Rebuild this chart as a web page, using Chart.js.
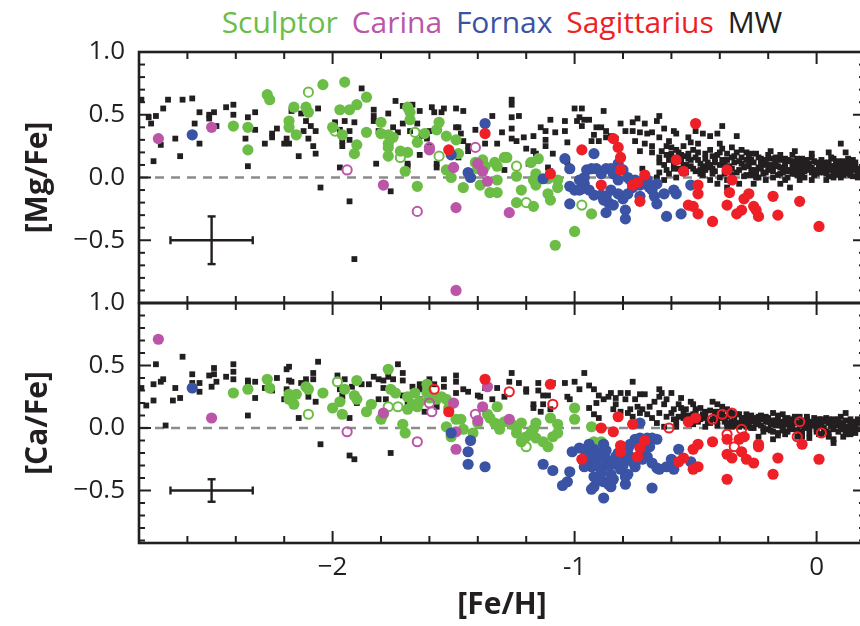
<!DOCTYPE html>
<html>
<head>
<meta charset="utf-8">
<script src="https://cdn.jsdelivr.net/npm/chart.js@4.4.1/dist/chart.umd.min.js"></script>
<style>
  html, body { margin: 0; padding: 0; background: #fff; overflow: hidden; }
  #wrap { position: relative; width: 860px; height: 626px; overflow: hidden; background: #fff; }
  #wrap canvas { position: absolute; left: 0; }
  #cMg { top: 0; }
  #cCa { top: 280px; }
  #legend { position: absolute; top: 2px; left: 139px; width: 726px; text-align: center;
            font-family: 'Open Sans', sans-serif; font-size: 30px; line-height: 40px; white-space: nowrap; }
  #legend span { margin: 0 3px; }
</style>
</head>
<body>
<div id="wrap">
  <div id="legend">
    <span style="color:#6cbd45">Sculptor</span>
    <span style="color:#bb55a8">Carina</span>
    <span style="color:#3b53a4">Fornax</span>
    <span style="color:#ee1f26">Sagittarius</span>
    <span style="color:#231f20">MW</span>
  </div>
  <canvas id="cMg" width="880" height="310" style="width:880px;height:310px"></canvas>
  <canvas id="cCa" width="880" height="346" style="width:880px;height:346px"></canvas>
</div>
<script>
// ---------- [Mg/Fe] vs [Fe/H] ----------
const mgMW = [
  [-2.79,0.62],[-2.76,0.48],[-2.73,0.49],[-2.75,0.43],[-2.68,0.62],[-2.70,0.55],[-2.62,0.62],[-2.58,0.63],
  [-2.55,0.52],[-2.57,0.43],[-2.55,0.27],[-2.63,0.17],[-2.74,0.13],[-2.71,0.26],[-2.65,0.31],[-2.51,0.50],
  [-2.49,0.52],[-2.51,0.47],[-2.48,0.41],[-2.44,0.56],[-2.41,0.58],[-2.41,0.50],[-2.35,0.48],[-2.32,0.52],
  [-2.32,0.38],[-2.36,0.31],[-2.35,0.09],[-2.28,0.27],[-2.23,0.39],[-2.25,0.35],[-2.25,0.32],[-2.20,0.27],
  [-2.18,0.27],[-2.19,0.31],[-2.17,0.53],[-2.13,0.51],[-2.11,0.45],[-2.12,0.37],[-2.09,0.41],[-2.07,0.37],
  [-2.10,0.31],[-2.08,0.25],[-2.07,0.19],[-2.14,0.17],[-2.06,0.55],[-1.99,0.44],[-1.97,0.38],[-1.95,0.45],
  [-1.91,0.44],[-1.93,0.37],[-1.93,0.30],[-1.96,0.29],[-1.96,0.25],[-1.97,0.08],[-2.05,-0.08],[-1.93,-0.19],
  [-1.91,-0.65],
  [-1.88,0.71],[-1.74,0.61],[-1.71,0.57],[-1.67,0.58],[-1.64,0.53],[-1.59,0.56],[-1.58,0.52],[-1.54,0.55],
  [-1.55,0.52],[-1.49,0.55],[-1.46,0.53],[-1.34,0.49],[-1.26,0.62],[-1.26,0.58],[-1.26,0.48],[-1.23,0.49],
  [-1.83,0.54],[-1.83,0.49],[-1.77,0.51],[-1.83,0.45],[-1.81,0.37],[-1.75,0.40],[-1.71,0.43],[-1.73,0.36],
  [-1.65,0.43],[-1.68,0.37],[-1.60,0.37],[-1.63,0.33],[-1.61,0.31],[-1.60,0.25],[-1.64,0.18],[-1.69,0.11],
  [-1.69,0.09],[-1.82,0.11],[-1.76,-0.11],[-1.49,0.40],[-1.48,0.40],[-1.47,0.35],[-1.46,0.29],[-1.44,0.25],
  [-1.41,0.38],[-1.37,0.27],[-1.32,0.27],[-1.30,0.36],[-1.26,0.39],[-1.26,0.31],[-1.21,0.32],[-1.17,0.33],
  [-1.24,0.29],[-1.20,0.23],[-1.17,0.21],[-1.16,0.19],[-1.14,0.40],[-1.12,0.37],[-1.10,0.46],[-1.08,0.36],
  [-1.12,0.30],[-1.12,0.25],[-1.09,0.19],[-1.04,0.45],[-1.04,0.37],[-1.03,0.28],[-0.99,0.45],[-1.00,0.55],
  [-1.57,0.11],[-1.57,0.08],[-1.49,0.19],[-1.48,0.16],[-1.44,0.21],[-1.29,0.06],[-1.19,0.11],[-1.11,0.08],
  [-1.10,0.05],[-1.03,0.12],
  [-0.97,0.55],[-0.88,0.53],[-0.98,0.48],[-0.96,0.46],[-0.97,0.41],[-0.94,0.46],[-0.91,0.40],[-0.89,0.40],
  [-0.87,0.37],[-0.92,0.34],[-0.93,0.29],[-0.90,0.29],[-0.87,0.32],[-0.85,0.33],[-0.83,0.31],[-0.81,0.43],
  [-0.79,0.37],[-0.76,0.44],[-0.74,0.47],[-0.71,0.43],[-0.76,0.37],[-0.73,0.36],[-0.70,0.35],[-0.68,0.36],
  [-0.66,0.45],[-0.65,0.49],[-0.63,0.39],[-0.65,0.32],[-0.61,0.29],[-0.59,0.37],[-0.58,0.35],[-0.55,0.25],
  [-0.53,0.32],[-0.52,0.28],[-0.50,0.37],[-0.49,0.27],[-0.47,0.35],[-0.44,0.33],[-0.41,0.35],[-0.39,0.41],
  [-0.33,0.33],[-0.40,0.27],[-0.75,0.29],[-0.73,0.21],[-0.71,0.27],[-0.68,0.25],[-0.68,0.20],[-0.65,0.16],
  [-0.65,0.12],[-0.63,0.10],[-0.62,0.06],[-0.61,0.14],[-0.59,0.11],[-0.57,0.20],[-0.56,0.18],[-0.53,0.19],
  [-0.52,0.14],[-0.50,0.16],[-0.48,0.11],[-0.46,0.15],[-0.44,0.10],[-0.42,0.12],[-0.41,0.18],[-0.39,0.23],
  [-0.37,0.19],[-0.35,0.24],[-0.33,0.20],[-0.31,0.16],[-0.29,0.20],[-0.27,0.14],[-0.25,0.19],[-0.23,0.15],
  [-0.21,0.10],[-0.19,0.21],[-0.17,0.16],[-0.15,0.14],[-0.13,0.11],[-0.10,0.18],[-0.08,0.11],[-0.06,0.15],
  [-0.04,0.10],[-0.02,0.16],[0.00,0.12],[0.03,0.08],[0.05,0.20],[0.07,0.15],[0.10,0.27],[0.12,0.20],
  [0.14,0.11],[0.16,0.06],[0.09,0.08],[0.11,0.06],[0.07,0.03],[0.04,0.03],[0.01,0.04],[-0.02,0.04],
  [-0.05,0.00],[-0.07,0.06],[-0.10,0.03],[-0.13,-0.02],[-0.15,0.03],[-0.18,0.00],[-0.21,0.04],[-0.24,0.00],
  [-0.26,0.06],[-0.29,0.02],[-0.32,0.06],[-0.35,0.02],[-0.37,-0.02],[-0.40,0.00],[-0.43,0.03],[-0.46,0.06],
  [-0.48,0.03],[-0.51,0.07],[-0.54,0.10],[-0.57,0.07],[-0.59,0.07],[-0.58,0.00],[-0.61,0.03],[-0.65,0.04],
  [-0.66,0.00],[-0.63,-0.02],[-0.44,-0.02],[-0.41,-0.05],[-0.37,-0.08],[-0.32,-0.05],[-0.26,-0.05],[-0.21,-0.02],
  [-0.15,-0.05],[-0.11,-0.08],[-0.07,-0.02],[-0.02,-0.02],[0.04,-0.02],[0.10,0.00],[0.13,0.03],[0.15,0.14],
  [0.13,0.15],[-0.72,0.07],
  [-0.60,0.15],[-0.55,0.10],[-0.50,0.05],[-0.45,0.08],[-0.42,0.05],[-0.38,0.10],[-0.36,0.05],[-0.34,0.12],
  [-0.30,0.08],[-0.28,0.10],[-0.27,0.02],[-0.24,0.08],[-0.22,0.12],[-0.20,0.06],[-0.18,0.09],[-0.16,0.02],
  [-0.14,0.07],[-0.12,0.05],[-0.11,0.13],[-0.09,0.07],[-0.08,0.02],[-0.06,0.09],[-0.05,0.05],[-0.03,0.07],
  [-0.01,0.02],[0.01,0.08],[0.02,0.05],[0.04,0.10],[0.06,0.06],[0.08,0.11],[0.09,0.02],[0.12,0.09],
  [0.14,0.06],[0.16,0.10],[0.17,0.03],[-0.64,0.21],[-0.62,0.18],[-0.60,0.24],[-0.57,0.14],[-0.53,0.15],
  [-0.49,0.20],[-0.47,0.09],[-0.43,0.17],[-0.39,0.14],[-0.35,0.16],[-0.31,0.11],[-0.29,0.14],[-0.25,0.04],
  [-0.23,0.11],[-0.19,0.15],[-0.17,0.11],[-0.15,0.08],[-0.13,0.15],[-0.10,0.10],[-0.07,0.13],[-0.04,0.14],
  [0.00,0.06],[0.03,0.12],[0.05,0.01],[0.07,0.09],[0.10,0.06],[0.11,0.13],[0.13,0.09],[0.15,0.01],[0.16,0.07],
  [-0.62,0.25],[-0.60,0.19],[-0.58,0.22],[-0.56,0.13],[-0.55,0.17],[-0.54,0.04],[-0.52,0.09],[-0.51,0.22],
  [-0.49,0.14],[-0.48,0.06],[-0.46,0.19],[-0.45,0.12],[-0.44,0.22],[-0.43,0.07],[-0.42,0.15],[-0.40,0.10],
  [-0.40,0.20],[-0.38,0.03],[-0.37,0.14],[-0.36,0.09],[-0.34,0.17],[-0.33,0.04],[-0.32,0.13],[-0.31,0.22],
  [-0.30,0.01],[-0.29,0.09],[-0.28,0.17],[-0.27,0.06],[-0.26,0.12],[-0.25,0.00],[-0.24,0.16],[-0.23,0.07],
  [-0.22,0.03],[-0.21,0.14],[-0.20,0.18],[-0.19,0.10],[-0.18,0.05],[-0.17,0.13],[-0.16,0.09],[-0.15,0.18],
  [-0.14,0.04],[-0.13,0.09],[-0.12,0.14],[-0.12,0.00],[-0.11,0.06],[-0.10,0.13],[-0.09,0.03],[-0.08,0.15],
  [-0.07,0.09],[-0.06,0.02],[-0.05,0.12],[-0.04,0.06],[-0.03,0.11],[-0.02,0.08],[-0.01,0.13],[0.00,0.03],
  [0.01,0.10],[0.02,0.14],[0.03,0.04],[0.04,0.07],[0.05,0.12],[0.06,0.09],[0.07,0.00],[0.08,0.06],
  [0.09,0.13],[0.10,0.09],[0.11,0.02],[0.12,0.05],[0.13,0.12],[0.14,0.02],[0.15,0.08],[0.16,0.12],
  [0.17,0.07],[0.17,0.00],[0.06,0.16],[-0.02,0.19],[-0.09,0.21],[-0.27,0.19],[-0.35,0.07],[-0.47,0.02]
];
const mgScl = [
  [-2.27,0.66],[-2.26,0.62],[-2.41,0.41],[-2.35,0.40],[-2.35,0.22],[-2.18,0.45],[-2.18,0.40],[-2.16,0.56],
  [-2.15,0.34],[-2.11,0.56],[-2.10,0.52],[-2.04,0.74],[-1.95,0.76],[-1.97,0.54],[-1.93,0.54],[-1.90,0.58],
  [-2.00,0.40],[-1.96,0.34],[-1.90,0.26],[-1.91,0.19],
  [-1.86,0.64],[-1.86,0.36],[-1.80,0.44],[-1.80,0.35],[-1.77,0.34],[-1.77,0.27],[-1.75,0.32],[-1.77,0.24],
  [-1.77,0.17],[-1.72,0.21],[-1.69,0.56],[-1.68,0.52],[-1.68,0.46],[-1.69,0.20],[-1.70,0.05],[-1.65,-0.07],
  [-1.62,0.35],[-1.65,0.28],[-1.57,0.38],[-1.56,0.44],[-1.53,0.33],[-1.49,0.30],[-1.48,0.19],[-1.46,-0.08],
  [-1.51,0.00],[-1.53,0.06],[-1.41,0.12],[-1.40,0.07],[-1.38,0.14],[-1.37,0.09],[-1.39,-0.06],[-1.35,-0.12],
  [-1.32,-0.12],[-1.33,0.12],[-1.32,0.09],[-1.29,0.16],[-1.28,0.16],[-1.32,-0.02],[-1.24,0.01],[-1.22,-0.10],
  [-1.24,-0.20],[-1.17,-0.23],[-1.17,-0.02],[-1.16,-0.06],[-1.16,0.03],[-1.15,0.15],[-1.18,0.12],[-1.11,-0.01],
  [-1.11,-0.13],[-1.10,-0.18],[-1.07,-0.02],[-1.07,-0.08],[-1.08,-0.54],[-1.00,-0.43],[-0.93,-0.29]
];
const mgSclOpen = [[-2.10,0.68],[-1.99,0.37],[-1.56,0.17],[-1.66,0.36],[-1.72,0.16],[-1.24,0.09],[-1.20,-0.20],[-0.97,-0.22]];
const mgCar = [[-2.72,0.31],[-2.50,0.40],[-1.79,-0.06],[-1.60,0.22],[-1.50,0.08],[-1.40,0.11],[-1.38,0.05],[-1.36,-0.03],[-1.49,-0.24],[-1.27,-0.28],[-1.49,-0.90]];
const mgCarOpen = [[-1.94,0.06],[-1.65,-0.27],[-1.60,0.24],[-1.41,0.24]];
const mgFnx = [
  [-2.58,0.34],[-1.37,0.43],[-1.51,0.18],[-1.44,0.04],[-1.43,0.00],[-1.13,-0.01],[-1.04,0.15],[-1.02,0.07],
  [-1.02,-0.21],[-1.00,-0.10],[-1.02,-0.07],[-0.92,0.19],[-0.98,-0.02],[-0.96,0.00],[-0.95,0.06],[-0.93,0.07],
  [-0.91,0.07],[-0.89,0.03],[-0.87,0.07],[-0.85,0.07],[-0.84,0.03],[-0.82,-0.02],[-0.82,0.11],[-0.80,0.06],
  [-0.78,0.00],[-0.77,-0.02],[-0.76,-0.08],[-0.75,-0.02],[-0.73,-0.06],[-0.71,-0.05],[-0.70,-0.02],[-0.69,-0.08],
  [-0.68,-0.10],[-0.66,-0.05],[-0.67,-0.15],[-0.66,-0.21],[-0.73,-0.15],[-0.78,-0.13],[-0.80,-0.17],[-0.82,-0.13],
  [-0.85,-0.10],[-0.87,-0.15],[-0.88,-0.18],[-0.89,-0.14],[-0.92,-0.14],[-0.94,-0.10],[-0.96,-0.05],[-0.97,-0.09],
  [-0.98,-0.10],[-0.87,-0.28],[-0.79,-0.26],[-0.79,-0.33],[-0.86,-0.20],[-0.84,-0.22],[-0.62,-0.31],[-0.56,-0.29],
  [-0.52,-0.06],[-0.59,-0.10],[-0.58,-0.13],[-0.63,-0.13]
];
const mgSgr = [
  [-1.37,0.35],[-1.52,0.22],[-1.10,0.03],[-0.97,0.22],[-0.89,-0.06],[-0.84,0.31],[-0.82,0.24],[-0.81,0.16],
  [-0.81,0.06],[-0.76,-0.06],[-0.74,-0.04],[-0.71,0.02],[-0.73,-0.19],[-0.58,0.14],[-0.55,0.05],[-0.50,0.43],
  [-0.37,0.06],[-0.35,-0.02],[-0.49,-0.06],[-0.49,-0.13],[-0.53,-0.22],[-0.51,-0.23],[-0.49,-0.29],[-0.36,-0.12],
  [-0.37,-0.22],[-0.43,-0.35],[-0.31,-0.26],[-0.33,-0.29],[-0.30,-0.17],[-0.28,-0.13],[-0.26,-0.23],[-0.25,-0.26],
  [-0.24,-0.31],[-0.18,-0.15],[-0.16,-0.30],[-0.07,-0.19],[0.01,-0.39]
];
// typical uncertainty: [Fe/H] centre, ratio centre, half-widths
const mgErrBar = [-2.5, -0.5, 0.17, 0.19];

// ---------- [Ca/Fe] vs [Fe/H] ----------
const caMW = [
  [-2.79,0.32],[-2.77,0.18],[-2.74,0.22],[-2.73,0.51],[-2.74,0.35],[-2.71,0.37],[-2.70,0.39],[-2.69,0.02],
  [-2.66,0.22],[-2.65,0.32],[-2.63,0.24],[-2.62,0.57],[-2.58,0.43],[-2.58,0.36],[-2.55,0.36],[-2.55,0.29],
  [-2.51,0.42],[-2.49,0.48],[-2.49,0.43],[-2.50,0.33],[-2.48,0.37],[-2.44,0.41],[-2.41,0.51],[-2.41,0.45],
  [-2.41,0.39],[-2.35,0.38],[-2.35,0.36],[-2.32,0.37],[-2.32,0.24],[-2.35,0.10],[-2.25,0.30],[-2.23,0.40],
  [-2.28,0.32],[-2.20,0.23],[-2.19,0.47],[-2.18,0.49],[-2.18,0.38],[-2.19,0.31],[-2.17,0.37],[-2.14,0.08],
  [-2.13,0.36],[-2.11,0.39],[-2.10,0.25],[-2.08,0.44],[-2.08,0.39],[-2.07,0.21],[-2.06,0.53],[-1.98,0.42],
  [-1.97,0.31],[-1.96,0.26],[-1.96,0.23],[-1.95,0.39],[-1.93,0.08],[-1.93,-0.22],[-1.91,-0.25],[-2.05,-0.13],
  [-1.92,0.33],[-1.88,0.35],[-1.85,0.35],[-1.83,0.41],[-1.81,0.39],[-1.79,0.38],[-1.77,0.41],[-1.73,0.51],
  [-1.75,0.39],[-1.71,0.44],[-1.71,0.38],[-1.79,0.32],[-1.81,0.23],[-1.78,0.23],[-1.74,0.27],[-1.71,0.26],
  [-1.67,0.33],[-1.64,0.35],[-1.64,0.31],[-1.60,0.39],[-1.58,0.35],[-1.54,0.39],[-1.54,0.33],[-1.49,0.42],
  [-1.49,0.37],[-1.49,0.28],[-1.46,0.31],[-1.44,0.29],[-1.40,0.26],[-1.39,0.25],[-1.37,0.32],[-1.34,0.23],
  [-1.32,0.32],[-1.29,0.25],[-1.26,0.44],[-1.27,0.37],[-1.23,0.36],[-1.20,0.31],[-1.20,0.29],[-1.15,0.36],
  [-1.15,0.30],[-1.13,0.26],[-1.17,0.19],[-1.13,0.19],[-1.11,0.26],[-1.09,0.36],[-1.04,0.36],[-1.00,0.37],
  [-1.03,0.25],[-1.02,0.23],[-0.96,0.44],[-0.98,0.31],[-0.94,0.34],[-0.92,0.31],[-0.90,0.26],[-0.91,0.20],
  [-0.94,0.16],[-0.92,0.11],[-0.90,0.08],[-0.88,0.23],[-0.86,0.25],[-1.69,0.20],[-1.64,0.23],[-1.57,0.17],
  [-1.90,0.20],[-1.76,-0.20],[-1.62,0.13],[-1.17,0.16],[-1.14,0.13],[-1.10,0.15],
  [-0.85,0.28],[-0.83,0.24],[-0.83,0.19],[-0.81,0.28],[-0.79,0.23],[-0.78,0.28],[-0.76,0.37],[-0.75,0.23],
  [-0.73,0.27],[-0.71,0.27],[-0.74,0.17],[-0.77,0.15],[-0.72,0.15],[-0.69,0.17],[-0.67,0.21],[-0.65,0.25],
  [-0.65,0.31],[-0.64,0.28],[-0.63,0.19],[-0.62,0.23],[-0.60,0.28],[-0.59,0.15],[-0.57,0.19],[-0.56,0.24],
  [-0.54,0.15],[-0.52,0.21],[-0.51,0.19],[-0.50,0.12],[-0.48,0.16],[-0.46,0.13],[-0.43,0.21],[-0.41,0.19],
  [-0.39,0.17],[-0.37,0.15],[-0.35,0.12],[-0.32,0.11],[-0.29,0.08],[-0.27,0.05],[-0.24,0.09],[-0.22,0.07],
  [-0.20,0.05],[-0.18,0.12],[-0.16,0.08],[-0.14,0.11],[-0.12,0.04],[-0.10,0.07],[-0.07,0.09],[-0.05,0.05],
  [-0.03,0.03],[-0.01,0.08],[0.01,0.04],[0.04,0.08],[0.07,0.07],[0.10,0.09],[0.12,0.12],[0.14,0.04],
  [0.16,0.01],[0.16,-0.04],[0.12,-0.03],[0.10,-0.01],[0.07,-0.12],[0.05,-0.04],[0.03,0.00],[0.00,-0.03],
  [-0.03,0.00],[-0.06,-0.04],[-0.10,-0.01],[-0.14,-0.01],[-0.18,-0.03],[-0.22,-0.03],[-0.26,0.00],[-0.29,0.01],
  [-0.32,0.04],[-0.35,0.05],[-0.37,0.09],[-0.40,0.08],[-0.43,0.07],[-0.46,0.08],[-0.48,0.09],[-0.51,0.11],
  [-0.54,0.08],[-0.57,0.09],[-0.59,0.07],[-0.62,0.09],[-0.65,0.12],[-0.68,0.08],[-0.70,0.11],[-0.73,0.12],
  [-0.76,0.09],[-0.78,0.12],[-0.81,0.13],[-0.84,0.15],[-0.66,0.04],[-0.63,0.01],[-0.58,0.01],[-0.46,0.01],
  [-0.37,0.01],[-0.29,-0.07],[-0.24,-0.07],[-0.18,-0.09],[-0.13,-0.05],[-0.08,-0.07],[-0.03,-0.08],[0.01,-0.05],
  [0.07,-0.09],[0.11,-0.07],
  [-0.44,0.04],[-0.41,0.02],[-0.38,0.05],[-0.34,0.08],[-0.33,0.02],[-0.30,0.05],[-0.28,0.02],[-0.25,0.05],
  [-0.23,0.02],[-0.21,0.09],[-0.19,0.03],[-0.17,0.06],[-0.15,0.02],[-0.13,0.07],[-0.11,0.01],[-0.09,0.04],
  [-0.07,0.02],[-0.05,0.00],[-0.04,0.07],[-0.02,0.05],[0.00,0.02],[0.02,0.07],[0.03,-0.02],[0.05,0.04],
  [0.06,0.01],[0.08,0.05],[0.09,-0.03],[0.11,0.04],[0.13,0.01],[0.14,0.07],[0.15,-0.02],[0.17,0.04],
  [-0.20,-0.01],[-0.16,-0.04],[-0.12,-0.03],[-0.08,-0.02],[0.02,-0.05],[0.12,-0.05],[-0.55,0.12],[-0.53,0.06],
  [-0.49,0.05],[-0.47,0.11],[-0.42,0.13],[-0.39,0.11],[-0.36,0.13],
  [-0.60,0.12],[-0.58,0.05],[-0.56,0.16],[-0.55,0.08],[-0.53,0.10],[-0.51,0.03],[-0.50,0.15],[-0.48,0.07],
  [-0.46,0.11],[-0.45,0.05],[-0.44,0.14],[-0.42,0.09],[-0.41,0.05],[-0.40,0.13],[-0.38,0.08],[-0.37,0.04],
  [-0.36,0.10],[-0.34,0.05],[-0.33,0.11],[-0.32,0.01],[-0.31,0.08],[-0.30,0.02],[-0.29,0.11],[-0.28,0.06],
  [-0.27,0.00],[-0.26,0.08],[-0.25,0.03],[-0.24,0.06],[-0.23,0.10],[-0.22,0.00],[-0.21,0.05],[-0.20,0.08],
  [-0.19,-0.02],[-0.18,0.06],[-0.17,0.02],[-0.16,0.10],[-0.15,0.05],[-0.14,-0.02],[-0.13,0.03],[-0.12,0.08],
  [-0.11,0.05],[-0.10,0.00],[-0.09,0.09],[-0.08,0.04],[-0.07,-0.03],[-0.06,0.06],[-0.05,0.03],[-0.04,0.09],
  [-0.03,-0.04],[-0.02,0.02],[-0.01,0.05],[0.00,-0.01],[0.01,0.07],[0.02,0.02],[0.03,0.05],[0.04,-0.03],
  [0.05,0.07],[0.06,0.03],[0.07,-0.01],[0.08,0.02],[0.09,0.07],[0.10,0.03],[0.11,0.00],[0.12,0.06],
  [0.13,-0.02],[0.14,0.02],[0.15,0.05],[0.16,0.02],[0.17,-0.01],[0.17,0.07],[-0.06,-0.07],[0.05,-0.07],
  [0.14,-0.05],[-0.16,-0.06],[-0.27,0.10],[-0.35,0.01]
];
const caScl = [
  [-2.41,0.28],[-2.35,0.31],[-2.27,0.39],[-2.26,0.32],[-2.18,0.27],[-2.18,0.23],[-2.16,0.19],[-2.15,0.27],
  [-2.11,0.33],[-2.10,0.31],[-2.04,0.28],[-2.00,0.16],[-1.97,0.21],[-1.96,0.11],[-1.95,0.31],[-1.90,0.38],
  [-1.91,0.26],[-1.90,0.23],
  [-1.86,0.13],[-1.84,0.19],[-1.80,0.07],[-1.79,0.11],[-1.77,0.47],[-1.76,0.31],[-1.74,0.28],[-1.71,0.03],
  [-1.70,-0.04],[-1.69,0.25],[-1.67,0.19],[-1.69,0.15],[-1.66,0.28],[-1.65,0.17],[-1.64,0.21],[-1.61,0.35],
  [-1.61,0.28],[-1.60,0.24],[-1.57,0.23],[-1.55,0.25],[-1.53,0.23],[-1.52,0.16],[-1.53,0.01],[-1.51,-0.07],
  [-1.49,0.07],[-1.47,0.07],[-1.46,-0.01],[-1.42,-0.04],[-1.40,0.04],[-1.36,0.11],[-1.35,0.08],[-1.33,0.04],
  [-1.32,0.03],[-1.32,0.17],[-1.31,-0.01],[-1.29,0.05],[-1.26,0.03],[-1.24,0.00],[-1.24,-0.04],[-1.22,0.04],
  [-1.22,-0.11],[-1.20,-0.07],[-1.18,-0.04],[-1.17,-0.01],[-1.16,0.04],[-1.16,-0.08],[-1.13,-0.11],[-1.11,-0.15],
  [-1.09,-0.07],[-1.07,-0.04],[-1.07,0.03],[-1.10,0.08],[-1.00,0.16],[-1.00,0.07],[-0.93,0.01],[-0.92,-0.11],
  [-0.89,-0.11]
];
const caSclOpen = [[-2.10,0.11],[-1.98,0.37],[-1.77,0.17],[-1.73,0.17],[-1.20,-0.15]];
const caCar = [[-2.72,0.71],[-2.50,0.08],[-1.79,0.12],[-1.50,0.20],[-1.49,-0.03],[-1.49,-0.17],[-1.40,0.06],[-1.38,0.17],[-1.36,0.33],[-1.27,0.07]];
const caCarOpen = [[-1.94,-0.03],[-1.65,-0.11],[-1.60,0.20],[-1.59,0.13],[-1.41,0.11]];
const caFnx = [
  [-2.58,0.32],[-1.51,-0.04],[-1.43,-0.10],[-1.44,-0.19],[-1.44,-0.29],[-1.37,-0.31],[-1.13,-0.29],[-1.09,-0.34],
  [-1.02,-0.35],[-1.05,-0.46],[-1.03,-0.43],[-1.01,-0.19],[-0.98,-0.16],[-0.96,-0.17],[-0.94,-0.23],[-0.92,-0.17],
  [-0.91,-0.25],[-0.88,-0.13],[-0.90,-0.31],[-0.89,-0.36],[-0.93,-0.31],[-0.95,-0.28],[-0.96,-0.31],[-0.92,-0.39],
  [-0.92,-0.47],[-0.93,-0.49],[-0.88,-0.43],[-0.86,-0.45],[-0.85,-0.47],[-0.88,-0.56],[-0.87,-0.25],[-0.83,-0.23],
  [-0.83,-0.29],[-0.81,-0.33],[-0.85,-0.37],[-0.79,-0.25],[-0.77,-0.23],[-0.78,-0.17],[-0.75,-0.09],[-0.73,-0.08],
  [-0.70,-0.08],[-0.68,-0.08],[-0.66,-0.09],[-0.69,-0.15],[-0.71,-0.20],[-0.70,-0.23],[-0.72,-0.25],[-0.74,-0.25],
  [-0.75,-0.31],[-0.78,-0.37],[-0.79,-0.45],[-0.68,-0.48],[-0.66,-0.32],[-0.65,-0.33],[-0.62,-0.31],[-0.60,-0.25],
  [-0.59,-0.28],[-0.59,-0.33],[-0.57,-0.17],[-0.52,-0.27],[-0.68,-0.28],[-0.79,-0.39],[-0.73,0.04],
  [-0.94,-0.13],[-0.90,-0.20],[-0.87,-0.18],[-0.86,-0.30],[-0.84,-0.27],[-0.82,-0.20],[-0.80,-0.30],[-0.90,-0.42],
  [-0.84,-0.41],[-0.76,-0.27],[-0.77,-0.13]
];
const caSgr = [
  [-1.37,0.39],[-1.52,0.13],[-1.10,0.35],[-0.97,-0.25],[-0.89,0.00],[-0.82,0.09],[-0.76,0.03],[-0.84,-0.03],
  [-0.81,-0.14],[-0.81,-0.19],[-0.71,-0.10],[-0.73,-0.16],[-0.74,-0.23],[-0.53,0.05],[-0.50,0.08],[-0.49,-0.13],
  [-0.51,-0.17],[-0.55,-0.24],[-0.57,-0.27],[-0.49,-0.31],[-0.51,-0.33],[-0.43,-0.11],[-0.37,-0.09],[-0.32,-0.09],
  [-0.30,-0.07],[-0.31,-0.19],[-0.37,-0.21],[-0.35,-0.24],[-0.29,-0.25],[-0.26,-0.28],[-0.24,-0.13],[-0.24,-0.15],
  [-0.37,-0.41],[-0.16,-0.24],[-0.18,-0.37],[-0.06,-0.13],[0.01,-0.25]
];
const caSgrOpen = [[-1.58,0.31],[-1.27,0.29],[-1.09,0.19],[-0.61,0.00],[-0.43,0.07],[-0.39,0.11],[-0.35,0.12],[-0.31,-0.01],[-0.37,-0.05],[-0.34,-0.15],[-0.07,0.05],[-0.08,-0.07],[0.02,-0.04]];
const caErrBar = [-2.5, -0.5, 0.17, 0.09];

// axis ranges and labelled ticks
const feRange = [-2.8, 0.2];
const mgRange = [-1.0, 1.0];
const caRange = [-0.92, 1.0];
const ratioTicks = [1.0, 0.5, 0.0, -0.5];
const feTicks = [-2, -1, 0];
const feTickText = { '-2': '\u22122', '-1': '-1', '0': '0' };

const INK = '#231f20';
const COLORS = { scl: '#6cbd45', car: '#bb55a8', fnx: '#3b53a4', sgr: '#ee1f26', mw: INK };
const FONT = "'Open Sans', 'Noto Sans', sans-serif";

const pts = arr => arr.map(([x, y]) => ({ x, y }));
const ratioLabel = v => (v < 0 ? '\u2212' : '') + Math.abs(v).toFixed(1);

function filled(label, arr, color, order) {
  return { label, data: pts(arr), pointStyle: 'circle', pointRadius: 5.6, pointBorderWidth: 0,
           backgroundColor: color, borderColor: color, borderWidth: 0, order };
}
function hollow(label, arr, color, order) {
  return { label, data: pts(arr), pointStyle: 'circle', pointRadius: 4.6, pointBorderWidth: 2,
           backgroundColor: 'rgba(0,0,0,0)', borderColor: color, borderWidth: 2, order };
}
function squares(label, arr, order) {
  return { label, data: pts(arr), pointStyle: 'rect', pointRadius: 4.1, pointBorderWidth: 0,
           backgroundColor: INK, borderColor: INK, borderWidth: 0, order };
}

// frame, inward ticks, dashed zero line and the error cross
const framePlugin = {
  id: 'frame',
  beforeDatasetsDraw(chart) {
    const { ctx, chartArea: a, scales: { y } } = chart;
    const y0 = y.getPixelForValue(0);
    ctx.save();
    ctx.strokeStyle = '#8c8c8c';
    ctx.lineWidth = 2.4;
    ctx.setLineDash([9, 7]);
    ctx.beginPath(); ctx.moveTo(a.left, y0); ctx.lineTo(a.right, y0); ctx.stroke();
    ctx.restore();
  },
  afterDatasetsDraw(chart, args, opts) {
    const { ctx, chartArea: a, scales: { x, y } } = chart;
    const seg = (x1, y1, x2, y2) => { ctx.beginPath(); ctx.moveTo(x1, y1); ctx.lineTo(x2, y2); ctx.stroke(); };
    ctx.save();
    ctx.strokeStyle = INK;
    ctx.lineWidth = 2;
    for (let i = Math.ceil(x.min * 5 - 1e-6); i <= Math.floor(x.max * 5 + 1e-6); i++) {
      const px = x.getPixelForValue(i / 5), len = (i % 5 === 0) ? 12 : 7;
      seg(px, a.top, px, a.top + len);
      seg(px, a.bottom, px, a.bottom - len);
    }
    for (let i = Math.ceil(y.min * 10 - 1e-6); i <= Math.floor(y.max * 10 + 1e-6); i++) {
      const py = y.getPixelForValue(i / 10), len = (i % 5 === 0) ? 12 : 6;
      seg(a.left, py, a.left + len, py);
      seg(a.right, py, a.right - len, py);
    }
    ctx.lineWidth = 2.6;
    ctx.strokeRect(a.left, a.top, a.right - a.left, a.bottom - a.top);

    const [ex, ey, dx, dy] = opts.err;
    const cx = x.getPixelForValue(ex), cy = y.getPixelForValue(ey);
    const xl = x.getPixelForValue(ex - dx), xr = x.getPixelForValue(ex + dx);
    const yt = y.getPixelForValue(ey + dy), yb = y.getPixelForValue(ey - dy);
    ctx.lineWidth = 2.4;
    seg(xl, cy, xr, cy);
    seg(cx, yt, cx, yb);
    const cap = 4;
    seg(xl, cy - cap, xl, cy + cap);
    seg(xr, cy - cap, xr, cy + cap);
    seg(cx - cap, yt, cx + cap, yt);
    seg(cx - cap, yb, cx + cap, yb);
    ctx.restore();
  }
};

function yAxis(range, title) {
  return {
    type: 'linear', min: range[0], max: range[1],
    afterFit: s => { s.width = 139; s.paddingTop = 0; s.paddingBottom = 0; },
    afterBuildTicks: s => { s.ticks = ratioTicks.map(v => ({ value: v })); },
    ticks: { callback: v => ratioLabel(v), color: INK, padding: 14, font: { family: FONT, size: 26 } },
    grid: { display: false, drawTicks: false },
    border: { display: false },
    title: { display: true, text: title, color: INK, padding: { top: 20, bottom: 0 },
             font: { family: FONT, size: 30, weight: 'bold' } }
  };
}

function panel(id, sets, yRange, yTitle, err, showX, padding) {
  const xAxis = showX ? {
    type: 'linear', min: feRange[0], max: feRange[1],
    afterFit: s => { s.height = 83; s.paddingLeft = 0; s.paddingRight = 0; },
    afterBuildTicks: s => { s.ticks = feTicks.map(v => ({ value: v })); },
    ticks: { callback: v => feTickText[String(v)], color: INK, padding: 9, maxRotation: 0,
             font: { family: FONT, size: 26 } },
    grid: { display: false, drawTicks: false },
    border: { display: false },
    title: { display: true, text: '[Fe/H]', color: INK, padding: { top: 0, bottom: 3 },
             font: { family: FONT, size: 30, weight: 'bold' } }
  } : { type: 'linear', min: feRange[0], max: feRange[1], display: false };

  return new Chart(document.getElementById(id), {
    type: 'scatter',
    data: { datasets: sets },
    options: {
      responsive: false, animation: false, devicePixelRatio: 1,
      layout: { padding },
      scales: { x: xAxis, y: yAxis(yRange, yTitle) },
      plugins: { legend: { display: false }, tooltip: { enabled: false }, frame: { err } }
    },
    plugins: [framePlugin]
  });
}

panel('cMg', [
  squares('MW', mgMW, 6),
  filled('Sculptor', mgScl, COLORS.scl, 5),
  hollow('Sculptor', mgSclOpen, COLORS.scl, 5),
  filled('Carina', mgCar, COLORS.car, 4),
  hollow('Carina', mgCarOpen, COLORS.car, 4),
  filled('Fornax', mgFnx, COLORS.fnx, 3),
  filled('Sagittarius', mgSgr, COLORS.sgr, 2)
], mgRange, '[Mg/Fe]', mgErrBar, false, { top: 52, bottom: 7, left: 0, right: 15 });

panel('cCa', [
  squares('MW', caMW, 6),
  filled('Sculptor', caScl, COLORS.scl, 5),
  hollow('Sculptor', caSclOpen, COLORS.scl, 5),
  filled('Carina', caCar, COLORS.car, 4),
  hollow('Carina', caCarOpen, COLORS.car, 4),
  filled('Fornax', caFnx, COLORS.fnx, 3),
  filled('Sagittarius', caSgr, COLORS.sgr, 2),
  hollow('Sagittarius', caSgrOpen, COLORS.sgr, 1)
], caRange, '[Ca/Fe]', caErrBar, true, { top: 23, bottom: 0, left: 0, right: 15 });
</script>
</body>
</html>
